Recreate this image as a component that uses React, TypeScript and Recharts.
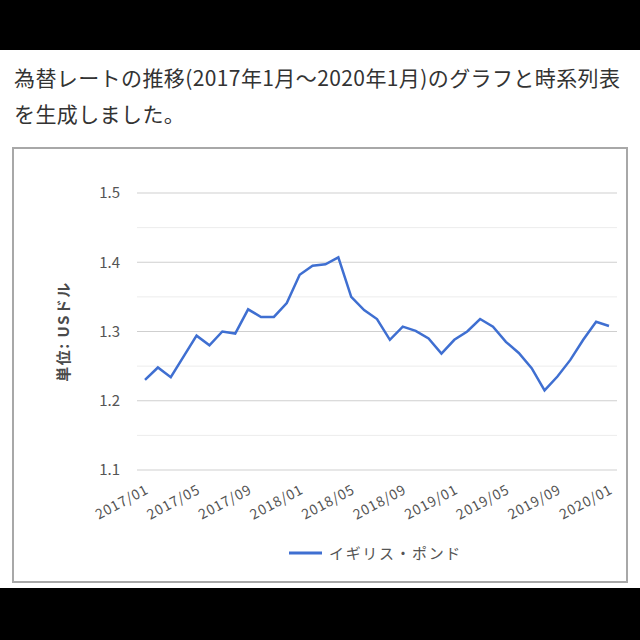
import React from "react";
import {
  CartesianGrid,
  Legend,
  Line,
  LineChart,
  ReferenceLine,
  XAxis,
  YAxis,
} from "recharts";

const months = [
  "2017/01", "2017/02", "2017/03", "2017/04", "2017/05", "2017/06",
  "2017/07", "2017/08", "2017/09", "2017/10", "2017/11", "2017/12",
  "2018/01", "2018/02", "2018/03", "2018/04", "2018/05", "2018/06",
  "2018/07", "2018/08", "2018/09", "2018/10", "2018/11", "2018/12",
  "2019/01", "2019/02", "2019/03", "2019/04", "2019/05", "2019/06",
  "2019/07", "2019/08", "2019/09", "2019/10", "2019/11", "2019/12",
  "2020/01",
];

const gbp = [
  1.230, 1.248, 1.234, 1.264, 1.294, 1.280, 1.300, 1.297, 1.332, 1.321,
  1.321, 1.341, 1.382, 1.395, 1.397, 1.407, 1.350, 1.331, 1.318, 1.288,
  1.307, 1.301, 1.290, 1.268, 1.288, 1.300, 1.318, 1.307, 1.285, 1.269,
  1.247, 1.215, 1.235, 1.259, 1.288, 1.314, 1.308,
];

const yTicks = [1.1, 1.2, 1.3, 1.4, 1.5];
const yMinor = [1.15, 1.25, 1.35, 1.45];

const seriesName = "イギリス・ポンド";
const yLabel = "単位: USドル";

const data = months.map((m, i) => ({ month: m, gbp: gbp[i] }));

const FONT = "'Noto Sans CJK JP', 'Noto Sans', sans-serif";
const BLUE = "#3f6fd1";

function LegendBox() {
  return (
    <div
      style={{
        display: "flex",
        justifyContent: "center",
        alignItems: "center",
        paddingLeft: 120,
        fontFamily: FONT,
        fontSize: 15,
        letterSpacing: 1.6,
        color: "#555",
      }}
    >
      <svg width={33} height={10} style={{ marginRight: 7 }}>
        <line x1={0} y1={5} x2={33} y2={5} stroke={BLUE} strokeWidth={3} />
      </svg>
      <span>{seriesName}</span>
    </div>
  );
}

export default function App() {
  return (
    <div
      style={{
        position: "fixed",
        left: 0,
        top: 0,
        width: 640,
        height: 640,
        background: "#000",
        overflow: "hidden",
      }}
    >
      <div
        style={{
          position: "absolute",
          left: 0,
          top: 50,
          width: 640,
          height: 538,
          background: "#fff",
        }}
      />
      <div
        style={{
          position: "absolute",
          left: 14,
          top: 59,
          fontFamily: FONT,
          fontSize: 21,
          letterSpacing: 0.4,
          lineHeight: "36px",
          color: "#333",
          whiteSpace: "nowrap",
        }}
      >
        為替レートの推移(2017年1月～2020年1月)のグラフと時系列表
        <br />
        を生成しました。
      </div>
      <div
        style={{
          position: "absolute",
          left: 12,
          top: 147,
          width: 612,
          height: 432,
          border: "2px solid #a8a8a8",
          background: "#fff",
        }}
      >
        <LineChart
          width={612}
          height={432}
          data={data}
          margin={{ top: 44, right: 9, bottom: 15, left: 0 }}
        >
          <CartesianGrid vertical={false} stroke="#cfcfcf" />
          {yMinor.map((v) => (
            <ReferenceLine key={v} y={v} stroke="#ececec" />
          ))}
          <XAxis
            dataKey="month"
            interval={3}
            axisLine={false}
            tickLine={false}
            padding={{ left: 8, right: 8 }}
            height={72}
            angle={-28}
            textAnchor="end"
            tick={{ fill: "#555", fontSize: 14, letterSpacing: 0.8, fontFamily: FONT }}
            tickMargin={8}
          />
          <YAxis
            domain={[1.1, 1.5]}
            ticks={yTicks}
            width={123}
            axisLine={false}
            tickLine={false}
            tickSize={0}
            tickMargin={17}
            tick={{ fill: "#555", fontSize: 15, fontFamily: FONT }}
            tickFormatter={(v: number) => v.toFixed(1)}
            label={{
              value: yLabel,
              angle: -90,
              position: "insideLeft",
              offset: 50,
              style: {
                textAnchor: "middle",
                fill: "#4a4a4a",
                fontSize: 15,
                letterSpacing: 1.5,
                fontWeight: 700,
                fontFamily: FONT,
              },
            }}
          />
          <Legend verticalAlign="bottom" height={24} content={() => <LegendBox />} />
          <Line
            type="linear"
            dataKey="gbp"
            name={seriesName}
            stroke={BLUE}
            strokeWidth={2.5}
            dot={false}
            isAnimationActive={false}
          />
        </LineChart>
      </div>
    </div>
  );
}
